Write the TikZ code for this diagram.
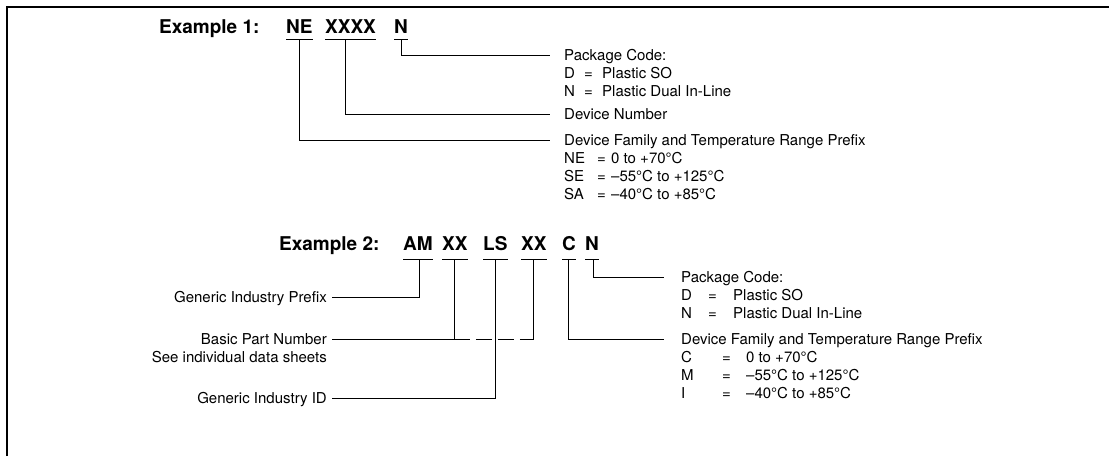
\documentclass[tikz,border=0pt]{standalone}
\usepackage{fontspec}
\setmainfont{TeX Gyre Heros}
\usepackage{tikz}
\tikzstyle{heading} = [font=\bfseries\fontsize{19}{22}\selectfont,
    inner sep=0pt,
    anchor=base west]
\tikzstyle{code} = [heading]
\tikzstyle{desc} = [font=\fontsize{15}{18}\selectfont,
    inner sep=0pt,
    text height=10pt,
    text depth=0pt]
\tikzstyle{entries} = [font=\fontsize{15}{18}\selectfont,
    inner sep=0pt,
    anchor=base west]
\tikzstyle{link} = [line width=0.8pt]

\begin{document}
\begin{tikzpicture}[x=1pt, y=-1pt]
        \useasboundingbox (0,0) rectangle (1109,456);
        \draw [line width=1.4pt] (7,456) -- (7,7) -- (1109,7);

        % Example 1
        \node (ex1) [heading] at (159,33) {Example 1:};
        \node (ex1_ne) [code] at (286,33) {NE};
        \node (ex1_xxxx) [code] at (325,33) {XXXX};
        \node (ex1_n) [code] at (394,33) {N};
        \foreach \c/\dx in {ex1_ne/0, ex1_xxxx/-5, ex1_n/0} {
            \draw [link] ([yshift=-6.5pt]\c.base west) -- ([yshift=-6.5pt]\c.base east);
            \coordinate (\c_u) at ([xshift=\dx pt, yshift=-6.5pt]\c.base);
        }

        \node (ex1_pkg) [desc, anchor=west] at (564,55) {Package Code:};
        \node (ex1_pkg_list) [entries] at ([yshift=-23pt]ex1_pkg.west)
        {\begin{tabular}[t]{@{}p{20pt}@{}p{18pt}@{}l@{}}
            D & = & Plastic SO\\
            N & = & Plastic Dual In-Line
        \end{tabular}};
        \node (ex1_devnum) [desc, anchor=west] at (564,114) {Device Number};
        \node (ex1_fam) [desc, anchor=west] at (564,140) {Device Family and Temperature Range Prefix};
        \node (ex1_fam_list) [entries] at ([yshift=-23pt]ex1_fam.west)
        {\begin{tabular}[t]{@{}p{33pt}@{}p{14pt}@{}l@{}}
            NE & = & 0 to +70°C\\
            SE & = & –55°C to +125°C\\
            SA & = & –40°C to +85°C
        \end{tabular}};

        \draw [link, shorten >=14pt] (ex1_n_u) |- (ex1_pkg.west);
        \draw [link, shorten >=14pt] (ex1_xxxx_u) |- (ex1_devnum.west);
        \draw [link, shorten >=14pt] (ex1_ne_u) |- (ex1_fam.west);

        % Example 2
        \node (ex2) [heading] at (279,250) {Example 2:};
        \node (ex2_am) [code] at (403,250) {AM};
        \node (ex2_xx_a) [code] at (442,250) {XX};
        \node (ex2_ls) [code] at (483,250) {LS};
        \node (ex2_xx_b) [code] at (521,250) {XX};
        \node (ex2_c) [code] at (562,250) {C};
        \node (ex2_n) [code] at (585,250) {N};
        \foreach \c/\dx in {ex2_am/1, ex2_xx_a/0, ex2_ls/0, ex2_xx_b/0, ex2_c/-1, ex2_n/1} {
            \draw [link] ([yshift=-9.5pt]\c.base west) -- ([yshift=-9.5pt]\c.base east);
            \coordinate (\c_u) at ([xshift=\dx pt, yshift=-9.5pt]\c.base);
        }

        \node (ex2_pkg) [desc, anchor=west] at (681,277) {Package Code:};
        \node (ex2_pkg_list) [entries] at ([yshift=-23pt]ex2_pkg.west)
        {\begin{tabular}[t]{@{}p{27pt}@{}p{25pt}@{}l@{}}
            D & = & Plastic SO\\
            N & = & Plastic Dual In-Line
        \end{tabular}};
        \node (ex2_fam) [desc, anchor=west] at (681,339) {Device Family and Temperature Range Prefix};
        \node (ex2_fam_list) [entries] at ([yshift=-23pt]ex2_fam.west)
        {\begin{tabular}[t]{@{}p{41pt}@{}p{24pt}@{}l@{}}
            C & = & 0 to +70°C\\
            M & = & –55°C to +125°C\\
            I & = & –40°C to +85°C
        \end{tabular}};

        \node (ex2_prefix) [desc, anchor=east] at (327,297) {Generic Industry Prefix};
        \node (ex2_basic) [desc, anchor=east] at (327,339) {Basic Part Number};
        \node (ex2_sheets) [desc, anchor=east] at ([yshift=-18pt]ex2_basic.east) {See individual data sheets};
        \node (ex2_id) [desc, anchor=east] at (327,398) {Generic Industry ID};

        \coordinate (ex2_part_joint) at (ex2_xx_a_u |- ex2_basic.east);
        \coordinate (ex2_part_end) at (ex2_xx_b_u |- ex2_basic.east);

        \draw [link, shorten <=5pt] (ex2_prefix.east) -| (ex2_am_u);
        \draw [link, shorten <=5pt] (ex2_basic.east) -| (ex2_xx_a_u);
        \draw [link] (ex2_part_joint) -- ([xshift=15pt]ex2_part_joint);
        \draw [link, dash pattern=on 16pt off 6pt] ([xshift=21pt]ex2_part_joint) -- (ex2_part_end);
        \draw [link] (ex2_part_end) -- (ex2_xx_b_u);
        \draw [link, shorten <=5pt] (ex2_id.east) -| (ex2_ls_u);
        \draw [link, shorten >=17pt] (ex2_c_u) |- (ex2_fam.west);
        \draw [link, shorten >=17pt] (ex2_n_u) |- (ex2_pkg.west);
    \end{tikzpicture}
\end{document}
